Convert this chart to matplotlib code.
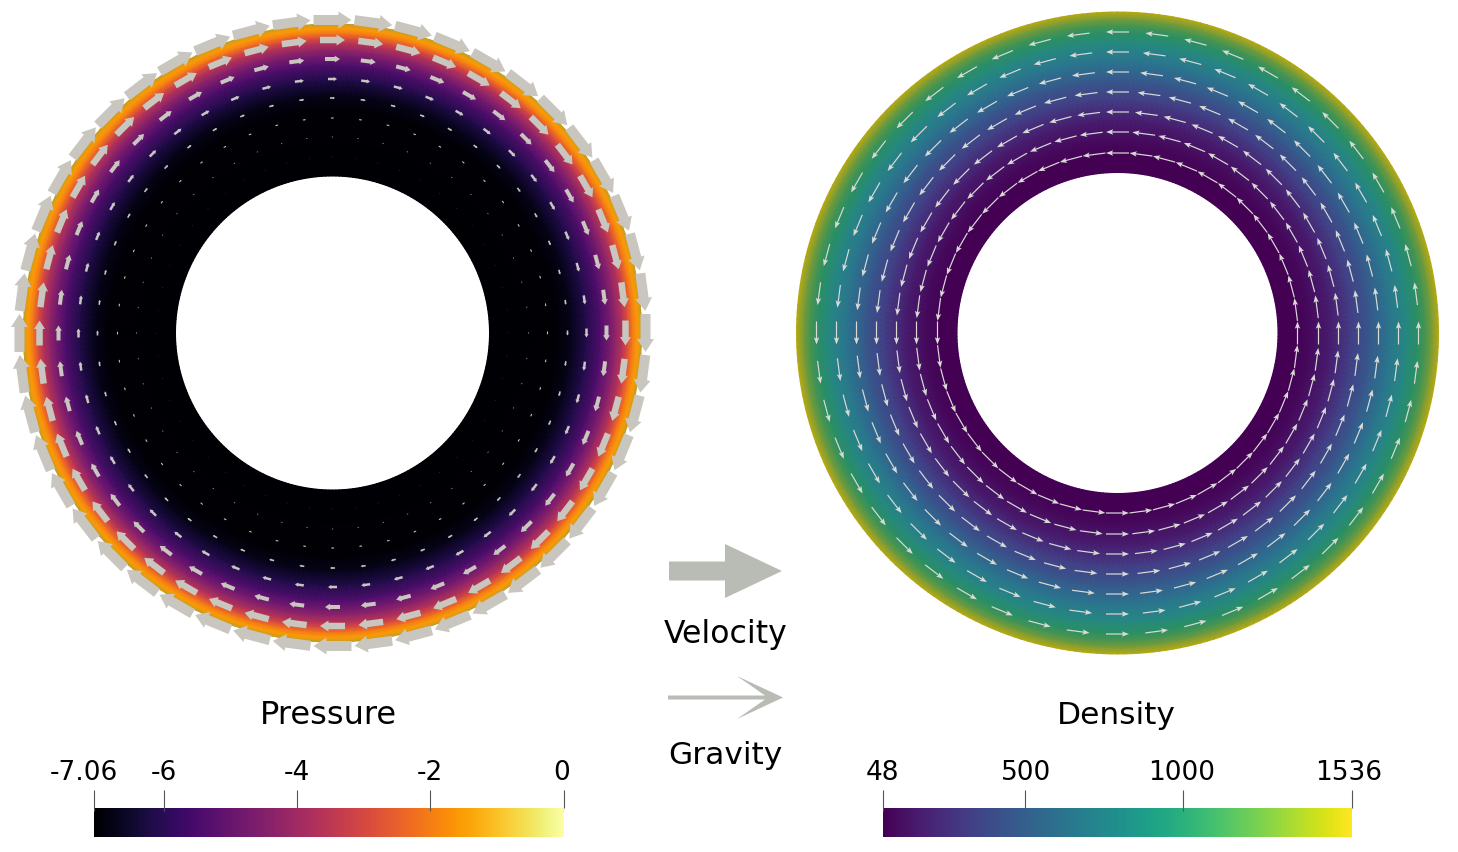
import numpy as np
import matplotlib
matplotlib.use('Agg')
import matplotlib.pyplot as plt
from matplotlib.colors import LinearSegmentedColormap
from matplotlib.transforms import ScaledTranslation

W, H = 1458, 853

# radial profile of the pressure annulus (radius in px, value)
p_radius = [157, 223, 238, 253, 268, 278, 283, 290, 295, 300, 304, 307, 309]
p_value = [-7.06, -7.03, -6.75, -6.15, -5.4, -4.7, -4.3, -3.6, -2.9, -2.1, -1.6, -1.3, -0.4]

# radial profile of the density annulus
d_radius = [160.5, 178, 193, 213, 233, 253, 271, 288, 300, 308, 314, 321]
d_value = [48, 50, 90, 170, 316, 465, 620, 770, 920, 1040, 1170, 1536]

# velocity arrows, one entry per ring
v_ring = [313, 293, 274, 254, 235, 215, 196, 176]
v_len = [38, 25, 15, 9, 5, 3, 1.5, 0.5]
v_shaft = [10, 6.5, 4, 2.5, 1.6, 1, 0.6, 0.4]

# gravity arrows
g_ring = [301, 281, 261, 241, 221, 201, 180]
g_len = [23, 23, 23, 23, 23, 23, 23]

n_arrows = 48

p_ticks = [-7.06, -6, -4, -2, 0]
p_labels = ['-7.06', '-6', '-4', '-2', '0']
d_ticks = [48, 500, 1000, 1536]
d_labels = ['48', '500', '1000', '1536']

fig = plt.figure(figsize=(W / 100, H / 100), dpi=100)


def px_axes(x0, y0, x1, y1):
    # axes from pixel box, y measured from the top
    ax = fig.add_axes([x0 / W, 1 - y1 / H, (x1 - x0) / W, (y1 - y0) / H])
    return ax


def shaded(name, cut, stops):
    # the rendered annulus goes olive at the rim, so the map is bent there
    base = plt.get_cmap(name)
    t = np.linspace(0, cut, 40)
    pairs = [(i, base(i)) for i in t] + stops
    return LinearSegmentedColormap.from_list(name + '_rim', pairs, N=512)


def annulus(ax, radius, value, cmap, vmin, vmax):
    th = np.linspace(0, 2 * np.pi, 289)
    r = np.array(radius, dtype=float)
    T, R = np.meshgrid(th, r)
    C = np.tile(np.array(value, dtype=float)[:, None], (1, len(th)))
    ax.pcolormesh(R * np.cos(T), R * np.sin(T), C, cmap=cmap, vmin=vmin, vmax=vmax,
                  shading='gouraud', rasterized=True)
    ax.set_xlim(-330, 330)
    ax.set_ylim(-330, 330)
    ax.axis('off')


def ring_arrows(ax, r, length, shaft, sign, color, hw, hl, hal):
    a = np.pi / 2 + np.arange(n_arrows) * 2 * np.pi / n_arrows
    x = r * np.cos(a)
    y = r * np.sin(a)
    u = sign * length * np.sin(a)
    v = -sign * length * np.cos(a)
    ax.quiver(x, y, u, v, angles='xy', scale_units='xy', scale=1, units='xy', pivot='mid',
              width=shaft, headwidth=hw, headlength=hl, headaxislength=hal,
              minshaft=0, minlength=0, color=color, linewidth=0, zorder=3)


def colorbar(x0, x1, cmap, ticks, labels, offsets):
    ax = px_axes(x0, 809, x1, 838)
    grad = np.linspace(0, 1, 512)[None, :]
    ax.imshow(grad, cmap=cmap, aspect='auto', extent=[ticks[0], ticks[-1], 0, 1])
    for s in ax.spines.values():
        s.set_visible(False)
    ax.set_yticks([])
    ax.xaxis.tick_top()
    ax.set_xticks(ticks)
    ax.set_xticklabels(labels, fontsize=19)
    ax.tick_params(axis='x', length=13, width=0.8, color='#555555', pad=3.8)
    ax.vlines(ticks, 0.9, 1, color='#555555', lw=0.8)
    for lab, dx in zip(ax.get_xticklabels(), offsets):
        lab.set_transform(lab.get_transform() + ScaledTranslation(dx / 100, 0, fig.dpi_scale_trans))
    return ax


# pressure panel
ax_p = px_axes(2.5, 4, 662.5, 664)
p_cmap = shaded('inferno', 0.78, [(0.9, '#c79a22'), (1.0, '#aaa52c')])
annulus(ax_p, p_radius, p_value, p_cmap, -7.06, 0)
for r, l, s in zip(v_ring, v_len, v_shaft):
    ring_arrows(ax_p, r, l, s, 1, '#c8c6be', 1.7, 1.3, 1.3)

# density panel
ax_d = px_axes(787.5, 4, 1447.5, 664)
d_cmap = shaded('viridis', 0.45, [(0.6, '#2a9060'), (0.8, '#8a9e30'), (1.0, '#b8aa12')])
annulus(ax_d, d_radius, d_value, d_cmap, 48, 1536)
for r, l in zip(g_ring, g_len):
    ring_arrows(ax_d, r, l, 1.2, -1, '#d8dad6', 4.5, 6, 5)

colorbar(94, 563.5, 'inferno', p_ticks, p_labels, [-10.5, -1, -1, -1, -2])
colorbar(883, 1352, 'viridis', d_ticks, d_labels, [-1, 1, -1, -3])

# legend arrows and titles, pixel coordinates
ax_t = fig.add_axes([0, 0, 1, 1])
ax_t.set_xlim(0, W)
ax_t.set_ylim(H, 0)
ax_t.axis('off')
ax_t.patch.set_alpha(0)
ax_t.quiver([669], [572], [113], [0], angles='xy', scale_units='xy', scale=1, units='xy',
            pivot='tail', width=19, headwidth=54 / 19, headlength=57 / 19, headaxislength=57 / 19,
            minshaft=0, minlength=0, color='#b9bcb4', linewidth=0)
ax_t.quiver([668], [698.5], [115], [0], angles='xy', scale_units='xy', scale=1, units='xy',
            pivot='tail', width=4, headwidth=43 / 4, headlength=46 / 4, headaxislength=18 / 4,
            minshaft=0, minlength=0, color='#b9bcb4', linewidth=0)

ax_t.text(328, 716, 'Pressure', fontsize=23, ha='center', va='center')
ax_t.text(1116, 716, 'Density', fontsize=22.5, ha='center', va='center')
ax_t.text(725.5, 634, 'Velocity', fontsize=22.7, ha='center', va='center')
ax_t.text(725, 756, 'Gravity', fontsize=22.5, ha='center', va='center')

fig.savefig('out.png', dpi=100)
